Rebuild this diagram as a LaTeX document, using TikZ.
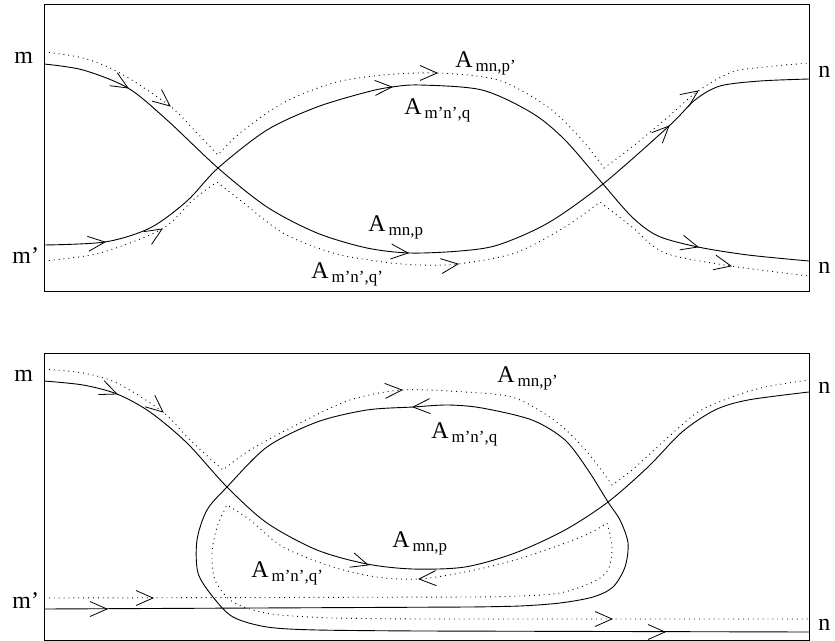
\documentclass[tikz,border=0pt]{standalone}
\usepackage{fontspec}
\setmainfont{Liberation Serif}
\newcommand\Alab[1]{A\kern3bp\raisebox{-4bp}{\fontsize{17}{17}\selectfont #1}}
\begin{document}
\begin{tikzpicture}[x=1bp,y=-1bp, line width=0.8bp,
  sol/.style={line width=0.9bp},
  dot/.style={line width=0.9bp, dash pattern=on 0.9bp off 4bp},
  lab/.style={inner sep=0pt, anchor=base west, font=\fontsize{24}{26}\selectfont},
  barb/.pic={\draw[line width=0.8bp, solid] (-17,-7.5) -- (0,0) -- (-17,7.5);}]
\useasboundingbox (0,0) rectangle (835,641);
% ---------- top panel ----------
\draw (44,4) rectangle (809,291);
\draw[sol] plot[smooth] coordinates {(44,64) (83,70) (128,88) (167,120) (218,168) (267,207) (317,233) (367,248) (410,253) (460,251) (498,245) (548,223) (603,184) (669,126) (695,100) (720,86) (760,81) (809,79)};
\draw[sol] plot[smooth] coordinates {(44,245) (105,242) (150,228) (187,201) (218,168) (267,130) (317,107) (367,92) (392,87) (420,85) (482,90) (532,113) (565,140) (603,184) (632,217) (658,236) (698,247) (748,255) (809,261)};
\draw[dot] plot[smooth] coordinates {(44,52) (83,58) (120,73) (170,106) (197,133) (218,155)}
  -- plot[smooth] coordinates {(218,155) (240,133) (283,103) (333,83) (383,75) (437,73) (498,80) (548,107) (582,140) (604,168)}
  -- plot[smooth] coordinates {(604,168) (632,147) (668,117) (698,91) (732,72) (765,67) (809,63)};
\draw[dot] plot[smooth] coordinates {(44,261) (100,253) (162,229) (193,200) (217,182)}
  -- plot[smooth] coordinates {(217,182) (240,200) (283,233) (333,253) (383,262) (420,265) (458,264) (515,253) (565,227) (600,202)}
  -- plot[smooth] coordinates {(600,202) (632,227) (665,253) (731,266) (809,276)};
\pic[rotate=-31] at (128,88) {barb};
\pic[rotate=-39] at (170,106) {barb};
\pic[rotate=6] at (105,242) {barb};
\pic[rotate=32] at (162,229) {barb};
\pic[rotate=3] at (392,87) {barb};
\pic[rotate=0] at (437,73) {barb};
\pic[rotate=-5] at (408,253) {barb};
\pic[rotate=7] at (458,264) {barb};
\pic[rotate=45] at (669,126) {barb};
\pic[rotate=35] at (698,91) {barb};
\pic[rotate=-15] at (698,247) {barb};
\pic[rotate=-12] at (731,266) {barb};
\node[lab] (tm) at (14,64) {m};
\node[lab] (tmp) at (12,263) {m'};
\node[lab] (tn) at (818,78) {n};
\node[lab] (tnb) at (818,273) {n};
\node[lab] (tA1) at (455,68) {\Alab{mn,p'}};
\node[lab] (tA2) at (404,115) {\Alab{m'n',q}};
\node[lab] (tA3) at (368,232) {\Alab{mn,p}};
\node[lab] (tA4) at (311,278) {\Alab{m'n',q'}};
% ---------- bottom panel ----------
\draw (44,353) rectangle (809,640);
\draw[sol] plot[smooth] coordinates {(44,381) (83,385) (117,394) (150,412) (187,443) (227,487) (267,523) (317,550) (367,564) (413,569) (465,567) (515,553) (565,530) (608,502) (648,467) (682,432) (715,410) (748,400) (809,392)};
\draw[sol] (44,609) -- (470,607) -- plot[smooth] coordinates {(470,607) (520,606) (560,603) (593,597) (613,587) (625,567) (628,543) (620,520) (608,502) (588,470) (565,440) (532,420) (482,408) (448,405) (413,407) (367,410) (317,422) (267,447) (227,487) (207,510) (197,540) (198,573) (213,597) (233,617) (267,627) (317,630) (420,631)} -- (809,632);
\draw[dot] plot[smooth] coordinates {(44,369) (83,373) (117,383) (163,412) (190,440) (223,470)}
  -- plot[smooth] coordinates {(223,470) (250,450) (300,423) (350,400) (402,390) (465,392) (515,398) (558,423) (588,453) (612,485)}
  -- plot[smooth] coordinates {(612,485) (632,470) (665,440) (698,412) (732,397) (765,387) (809,380)};
\draw[dot] (44,598) -- (480,597) -- plot[smooth] coordinates {(480,597) (520,596) (560,593) (593,582) (608,570) (612,547) (607,523)}
  -- plot[smooth] coordinates {(607,523) (590,533) (560,545) (515,560) (465,572) (419,579) (377,577) (333,567) (283,547) (250,520) (227,505)}
  -- plot[smooth] coordinates {(227,505) (217,527) (212,553) (215,580) (230,600) (253,610) (280,615) (333,618) (420,619)} -- (809,619);
\pic[rotate=-22] at (117,394) {barb};
\pic[rotate=-40] at (163,412) {barb};
\pic[rotate=0] at (107,609) {barb};
\pic[rotate=0] at (153,598) {barb};
\pic[rotate=3] at (402,390) {barb};
\pic[rotate=-177] at (413,407) {barb};
\pic[rotate=-17] at (368,565) {barb};
\pic[rotate=-177] at (419,579) {barb};
\pic[rotate=0] at (612,619) {barb};
\pic[rotate=0] at (665,632) {barb};
\node[lab] (bm) at (14,381) {m};
\node[lab] (bmp) at (12,608) {m'};
\node[lab] (bn) at (818,393) {n};
\node[lab] (bnb) at (818,630) {n};
\node[lab] (bA1) at (497,382) {\Alab{mn,p'}};
\node[lab] (bA2) at (431,438) {\Alab{m'n',q}};
\node[lab] (bA3) at (392,547) {\Alab{mn,p}};
\node[lab] (bA4) at (251,577) {\Alab{m'n',q'}};
\end{tikzpicture}
\end{document}
